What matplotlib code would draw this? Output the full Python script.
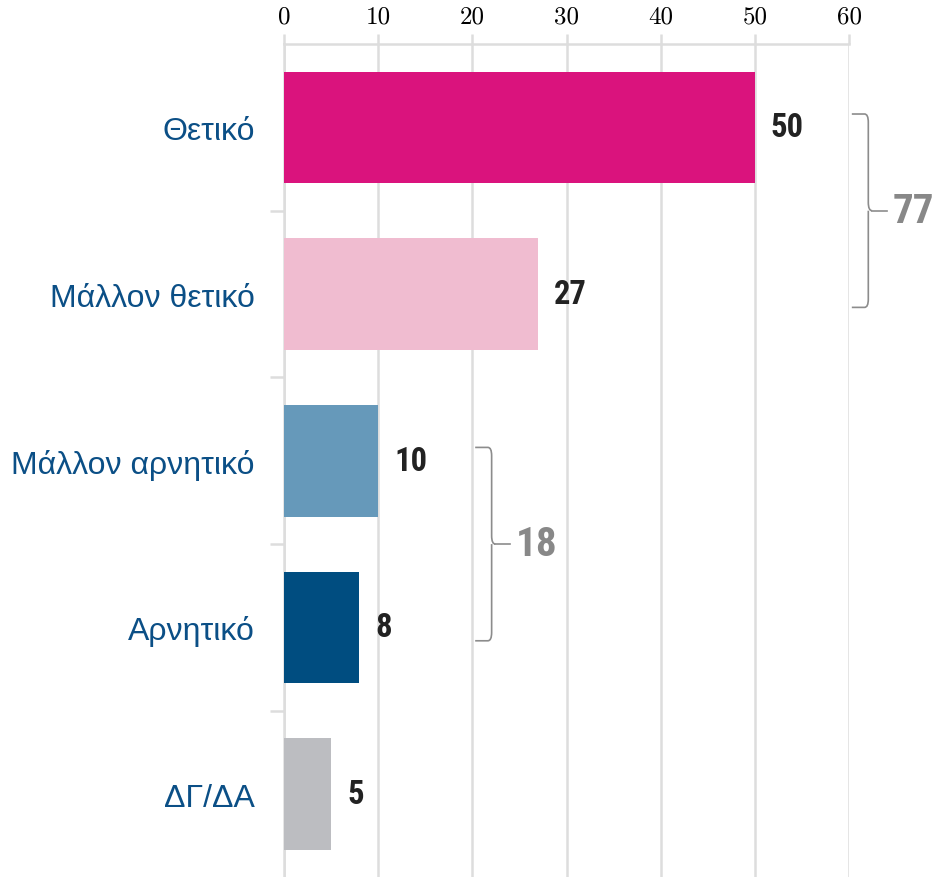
import matplotlib.pyplot as plt
from matplotlib import font_manager
from matplotlib.font_manager import FontProperties
from matplotlib.path import Path
from matplotlib.patches import PathPatch
import os

# Dane
kategorie = ['Θετικό', 'Μάλλον θετικό', 'Μάλλον αρνητικό', 'Αρνητικό', 'ΔΓ/ΔΑ']
wartosci = [50, 27, 10, 8, 5]
kolory = ['#da137d', '#f0bcd0', '#6699ba', '#004d80', '#bcbdc1']
grupy = [(0, 1, 77), (2, 3, 18)]  # (pierwszy wiersz, ostatni wiersz, suma)
ticki_x = [0, 10, 20, 30, 40, 50, 60]

# Szukamy wąskiej, pogrubionej czcionki (jak Arial Narrow Bold)
pliki = [f.fname for f in font_manager.fontManager.ttflist]
waska_plik = None
for wzor in ['LiberationSansNarrow-Bold.', 'RobotoCondensed-Bold.', 'Roboto_Condensed-Bold',
             'OpenSans_Condensed-Bold.', 'OpenSans-CondensedBold.', 'DejaVuSansCondensed-Bold.']:
    for p in pliki:
        if wzor in os.path.basename(p):
            waska_plik = p
            break
    if waska_plik:
        break
if waska_plik is None:
    for p in pliki:
        b = os.path.basename(p)
        if ('Condensed' in b or 'Narrow' in b) and 'Bold' in b and 'Italic' not in b and 'Oblique' not in b:
            waska_plik = p
            break


def waska(rozmiar):
    if waska_plik:
        return FontProperties(fname=waska_plik, size=rozmiar)
    return FontProperties(family='DejaVu Sans', weight='bold', stretch='condensed', size=rozmiar)


plt.rcParams['font.family'] = ['Liberation Sans', 'DejaVu Sans']

fig = plt.figure(figsize=(9.35, 8.78), dpi=100)
ax = fig.add_axes([284 / 935, 0, 565 / 935, 1 - 45 / 878])

y = list(range(len(kategorie)))
ax.barh(y, wartosci, height=0.67, color=kolory, zorder=3)

ax.set_xlim(0, 60)
ax.set_ylim(-0.5 + 837 / 167.5, -0.5)

# Oś X na górze
ax.xaxis.tick_top()
ax.set_xticks(ticki_x)
ax.set_xticklabels([str(t) for t in ticki_x], fontfamily='cmr10', fontsize=18)
ax.tick_params(axis='x', length=7, width=1.8, color='#dddddd', pad=5)
ax.grid(axis='x', color='#dddddd', linewidth=1.8, zorder=0)

# Oś Y
ax.set_yticks(y)
ax.set_yticklabels(kategorie, fontsize=23, color='#0b4f86')
ax.tick_params(axis='y', length=0, pad=21)
ax.set_yticks([i - 0.5 for i in range(1, len(kategorie))], minor=True)
ax.tick_params(axis='y', which='minor', length=10, width=1.8, color='#dddddd')

for s in ['right', 'bottom']:
    ax.spines[s].set_visible(False)
for s in ['top', 'left']:
    ax.spines[s].set_color('#dddddd')
    ax.spines[s].set_linewidth(1.8)

# Wartości przy słupkach
for i, v in enumerate(wartosci):
    ax.text(v + 1.7, i, str(v), va='center', ha='left',
            fontproperties=waska(23.5), color='#222222')

# Klamry z sumami
for a, b, suma in grupy:
    x0 = max(wartosci[a:b + 1]) + 10.3
    x1 = x0 + 1.75
    xt = x1 + 0.4
    y0 = a - 0.08
    y1 = b + 0.08
    ym = (y0 + y1) / 2
    r = 0.05
    verts = [
        (x0, y0), (x1 - 0.4, y0), (x1, y0), (x1, y0 + r),
        (x1, ym - r), (x1, ym), (xt, ym),
        (x1, ym), (x1, ym + r),
        (x1, y1 - r), (x1, y1), (x1 - 0.4, y1), (x0, y1),
    ]
    codes = [Path.MOVETO, Path.LINETO, Path.CURVE3, Path.CURVE3,
             Path.LINETO, Path.CURVE3, Path.CURVE3,
             Path.MOVETO, Path.CURVE3,
             Path.LINETO, Path.CURVE3, Path.CURVE3, Path.LINETO]
    ax.add_patch(PathPatch(Path(verts, codes), fill=False, edgecolor='#8c8c8c',
                           linewidth=1.2, clip_on=False, zorder=4))
    ax.plot([xt, x0 + 3.7], [ym, ym], color='#8c8c8c', linewidth=1.2,
            clip_on=False, zorder=4)
    ax.text(x0 + 4.35, ym, str(suma), va='center', ha='left',
            fontproperties=waska(29.5), color='#888888', clip_on=False)

plt.savefig('out.png', dpi=100)
